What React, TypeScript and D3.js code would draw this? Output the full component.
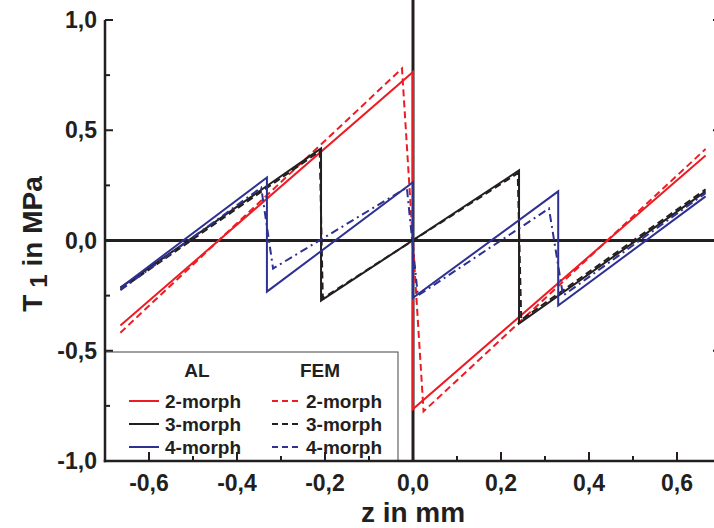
import React from "react";
import * as d3 from "d3";

// ---- data (z in mm, T1 in MPa) ----
const alZ2 = [-0.665, 0, 0, 0.665];
const alT2 = [-0.386, 0.764, -0.764, 0.386];
const femZ2 = [-0.665, -0.025, 0.024, 0.665];
const femT2 = [-0.418, 0.78, -0.775, 0.415];

const alZ3 = [-0.665, -0.209, -0.209, 0.241, 0.241, 0.665];
const alT3 = [-0.214, 0.418, -0.273, 0.318, -0.377, 0.223];
const femZ3 = [-0.665, -0.212, -0.205, 0.238, 0.246, 0.665];
const femT3 = [-0.222, 0.405, -0.262, 0.305, -0.36, 0.232];

const alZ4 = [-0.665, -0.332, -0.332, 0, 0, 0.33, 0.33, 0.665];
const alT4 = [-0.214, 0.286, -0.232, 0.264, -0.26, 0.223, -0.295, 0.2];
const femZ4 = [-0.665, -0.345, -0.318, -0.014, 0.011, 0.309, 0.341, 0.665];
const femT4 = [-0.225, 0.24, -0.127, 0.24, -0.25, 0.145, -0.25, 0.215];

const xMajor = [-0.6, -0.4, -0.2, 0, 0.2, 0.4, 0.6];
const xMinor = [-0.7, -0.5, -0.3, -0.1, 0.1, 0.3, 0.5, 0.7];
const yMajor = [-1, -0.5, 0, 0.5, 1];
const yMinor = [-0.75, -0.25, 0.25, 0.75];

const legendRows = ["2-morph", "3-morph", "4-morph"];

const RED = "#ed1c24";
const BLACK = "#231f20";
const BLUE = "#2e3192";

const fmt = (v: number) => {
  const s = d3.format(".1f")(Math.abs(v) < 1e-9 ? 0 : v).replace(".", ",");
  return s.replace("−", "-");
};

export default function App() {
  const W = 714, H = 528;
  const x = d3.scaleLinear().domain([-0.7, 0.7]).range([105, 721]);
  const y = d3.scaleLinear().domain([-1, 1]).range([461, 20]);
  const line = d3
    .line<[number, number]>()
    .x((d) => x(d[0]))
    .y((d) => y(d[1]));
  const pts = (zs: number[], ts: number[]) => zs.map((z, i) => [z, ts[i]] as [number, number]);

  const series = [
    { z: alZ2, t: alT2, color: RED, dash: undefined },
    { z: femZ2, t: femT2, color: RED, dash: "7,4" },
    { z: alZ3, t: alT3, color: BLACK, dash: undefined },
    { z: femZ3, t: femT3, color: BLACK, dash: "7,4" },
    { z: alZ4, t: alT4, color: BLUE, dash: undefined },
    { z: femZ4, t: femT4, color: BLUE, dash: "8,4,2,4" },
  ];
  const legendColors = [RED, BLACK, BLUE];
  const legendDash = ["6,4", "6,4", "6,4"];

  const font = "'Liberation Sans', Arial, Helvetica, sans-serif";
  const x0 = x(-0.7), x1 = x(0.7), yb = y(-1), yt = y(1);
  const legRowY = [401, 424, 447];

  return (
    <svg
      width={W}
      height={H}
      style={{ position: "fixed", left: 0, top: 0, background: "#fff" }}
      fontFamily={font}
      fontWeight="bold"
    >
      <rect x={0} y={0} width={W} height={H} fill="#fff" />
      {/* zero lines */}
      <line x1={x0} x2={x1} y1={y(0)} y2={y(0)} stroke={BLACK} strokeWidth={3} />
      <line x1={x(0)} x2={x(0)} y1={0} y2={yb} stroke={BLACK} strokeWidth={3} />

      {/* data */}
      {series.map((s, i) => (
        <path
          key={i}
          d={line(pts(s.z, s.t)) || ""}
          fill="none"
          stroke={s.color}
          strokeWidth={2}
          strokeDasharray={s.dash}
          strokeLinejoin="miter"
        />
      ))}

      {/* legend */}
      <rect x={x0} y={352} width={398 - x0} height={yb - 352} fill="#fff" stroke="#444" strokeWidth={1} />
      <text x={197} y={370} fontSize={19} textAnchor="middle" dominantBaseline="central" fill={BLACK}>AL</text>
      <text x={320} y={370} fontSize={19} textAnchor="middle" dominantBaseline="central" fill={BLACK}>FEM</text>
      {legendRows.map((r, i) => (
        <g key={r}>
          <line x1={129} x2={159} y1={legRowY[i]} y2={legRowY[i]} stroke={legendColors[i]} strokeWidth={2} />
          <text x={165} y={legRowY[i]} fontSize={19} dominantBaseline="central" fill={BLACK}>{r}</text>
          <line x1={272} x2={302} y1={legRowY[i]} y2={legRowY[i]} stroke={legendColors[i]} strokeWidth={2} strokeDasharray={legendDash[i]} />
          <text x={306} y={legRowY[i]} fontSize={19} dominantBaseline="central" fill={BLACK}>{r}</text>
        </g>
      ))}

      {/* axes */}
      <line x1={x0} x2={x0} y1={yt} y2={yb + 1.25} stroke={BLACK} strokeWidth={2.5} />
      <line x1={x1} x2={x1} y1={yt} y2={yb + 1.25} stroke={BLACK} strokeWidth={2.5} />
      <line x1={x0 - 1.25} x2={x1 + 1.25} y1={yb} y2={yb} stroke={BLACK} strokeWidth={2.5} />
      {xMajor.map((v) => (
        <g key={"xm" + v}>
          <line x1={x(v)} x2={x(v)} y1={yb} y2={yb - 9} stroke={BLACK} strokeWidth={2} />
          <text x={x(v)} y={483} fontSize={23} textAnchor="middle" dominantBaseline="central" fill={BLACK}>{fmt(v)}</text>
        </g>
      ))}
      {xMinor.map((v) => (
        <line key={"xn" + v} x1={x(v)} x2={x(v)} y1={yb} y2={yb - 5} stroke={BLACK} strokeWidth={2} />
      ))}
      {yMajor.map((v) => (
        <g key={"ym" + v}>
          <line x1={x0} x2={x0 + 8} y1={y(v)} y2={y(v)} stroke={BLACK} strokeWidth={2} />
          <line x1={x1} x2={x1 - 8} y1={y(v)} y2={y(v)} stroke={BLACK} strokeWidth={2} />
          <text x={97} y={y(v)} fontSize={23} textAnchor="end" dominantBaseline="central" fill={BLACK}>{fmt(v)}</text>
        </g>
      ))}
      {yMinor.map((v) => (
        <g key={"yn" + v}>
          <line x1={x0} x2={x0 + 5} y1={y(v)} y2={y(v)} stroke={BLACK} strokeWidth={2} />
          <line x1={x1} x2={x1 - 5} y1={y(v)} y2={y(v)} stroke={BLACK} strokeWidth={2} />
        </g>
      ))}

      {/* axis titles */}
      <text x={413} y={522} fontSize={28} textAnchor="middle" fill={BLACK}>z in mm</text>
      <text transform="translate(42,244) rotate(-90)" fontSize={28} textAnchor="middle" fill={BLACK}>
        T<tspan fontSize={24} dx={7} dy={5}>1</tspan>
        <tspan dy={-5}> in MPa</tspan>
      </text>
    </svg>
  );
}
